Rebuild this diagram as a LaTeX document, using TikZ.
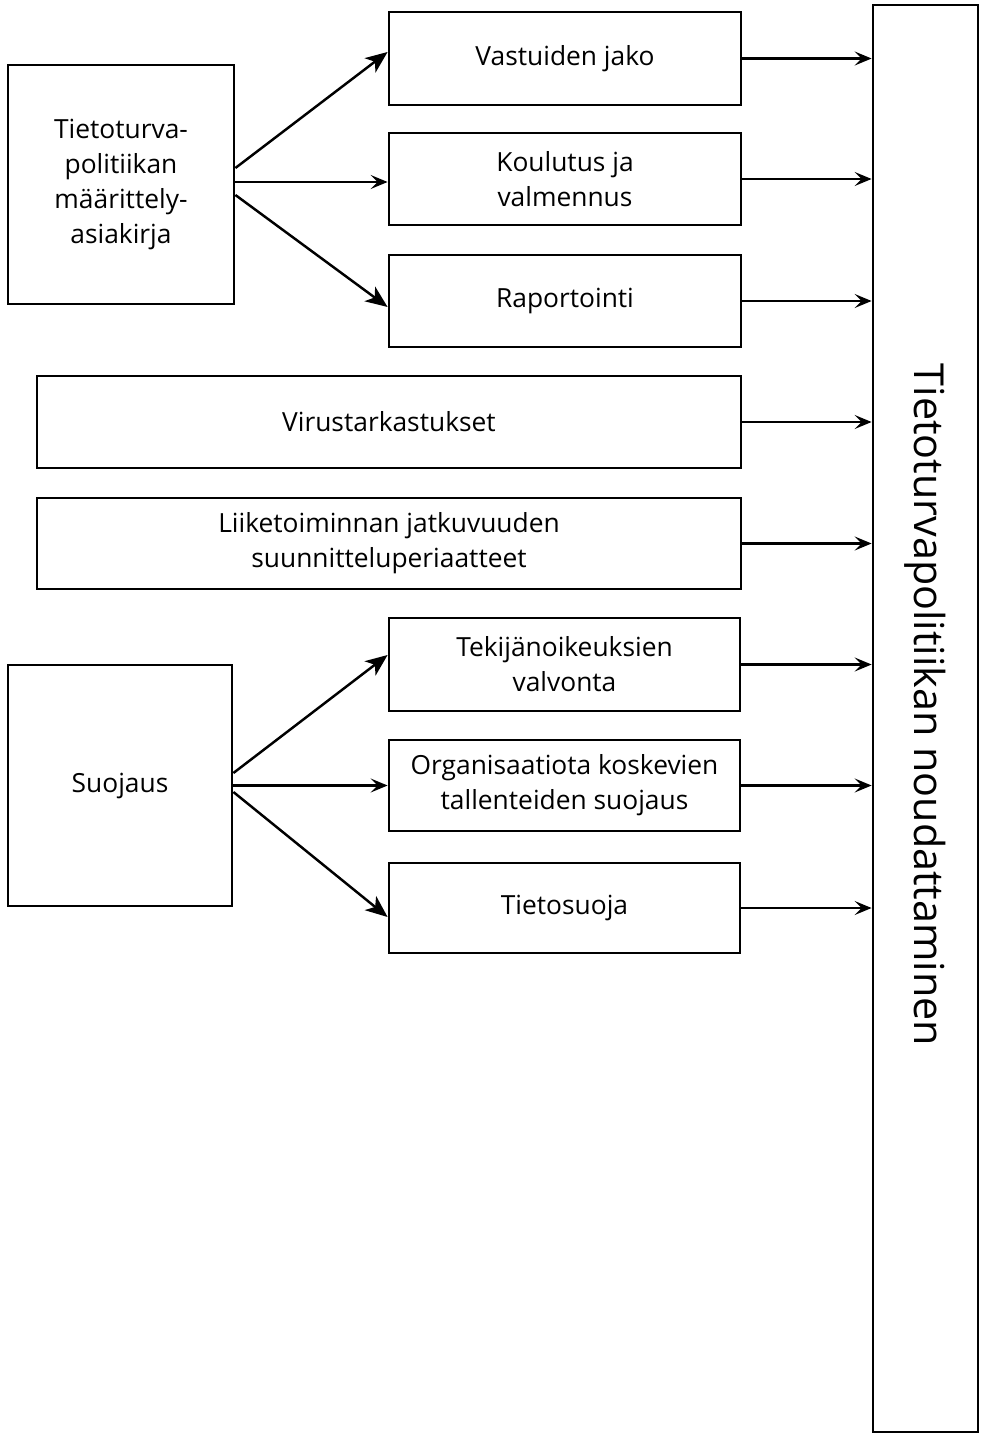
\documentclass[tikz,border=0pt]{standalone}
\usepackage{fontspec}
\setmainfont{Open Sans}
\usetikzlibrary{positioning}
\usetikzlibrary{arrows.meta}

\begin{document}
\begin{tikzpicture}[
	x=0.02cm,
	y=-0.02cm,
	line width=1.4pt,
	box/.style={draw, line width=1.6pt, align=center, inner sep=0pt,
		font=\fontsize{15}{20}\selectfont},
	feed/.style={-{Stealth[length=0.44cm,width=0.36cm,inset=0.12cm]}},
	into/.style={-{Stealth[length=0.34cm,width=0.28cm,inset=0.14cm]}}]

\def\px{0.02cm}

\useasboundingbox (0,0) rectangle (986,1436);

% policy document and its three branches
\node[box, minimum width=226*\px, minimum height=239*\px] (policy) at (121,184.5)
	{Tietoturva-\\politiikan\\määrittely-\\asiakirja};
\node[box, minimum width=352*\px, minimum height=93*\px] (duties) at (565,58.5) {Vastuiden jako};
\node[box, minimum width=352*\px, minimum height=92*\px] (training) at (565,179) {Koulutus ja\\valmennus};
\node[box, minimum width=352*\px, minimum height=92*\px] (reports) at (565,301) {Raportointi};

% wide boxes
\node[box, minimum width=704*\px, minimum height=92*\px] (virus) at (389,422) {Virustarkastukset};
\node[box, minimum width=704*\px, minimum height=91*\px] (continuity) at (389,543.5)
	{Liiketoiminnan jatkuvuuden\\suunnitteluperiaatteet};

% protection and its three branches
\node[box, minimum width=224*\px, minimum height=241*\px] (protect) at (120,785.5) {Suojaus};
\node[box, minimum width=351*\px, minimum height=93*\px] (copyright) at (564.5,664.5)
	{Tekijänoikeuksien\\valvonta};
\node[box, minimum width=351*\px, minimum height=91*\px] (records) at (564.5,785.5)
	{Organisaatiota koskevien\\tallenteiden suojaus};
\node[box, minimum width=351*\px, minimum height=90*\px] (privacy) at (564.5,908) {Tietosuoja};

% compliance column
\node[box, minimum width=105*\px, minimum height=1427*\px] (comply) at (925.5,718.5) {};
\node[rotate=-90, font=\fontsize{23.5}{26}\selectfont] (complytext) at (925.5,705)
	{Tietoturvapolitiikan noudattaminen};

% branches
\draw[feed] ([yshift=16.5*\px]policy.east) -- ([yshift=6.5*\px]duties.west);
\draw[into] ([yshift=2.5*\px]policy.east) -- ([yshift=-3*\px]training.west);
\draw[feed] ([yshift=-10.5*\px]policy.east) -- ([yshift=-6*\px]reports.west);

\draw[feed] ([yshift=12.5*\px]protect.east) -- ([yshift=9.5*\px]copyright.west);
\draw[into] (protect.east) -- (records.west);
\draw[feed] ([yshift=-6.5*\px]protect.east) -- ([yshift=-9*\px]privacy.west);

% everything leads to compliance
\foreach \src in {duties,training,reports,virus,continuity,copyright,records,privacy}
	\draw[into] (\src.east) -- (\src.east -| comply.west);

\end{tikzpicture}
\end{document}
